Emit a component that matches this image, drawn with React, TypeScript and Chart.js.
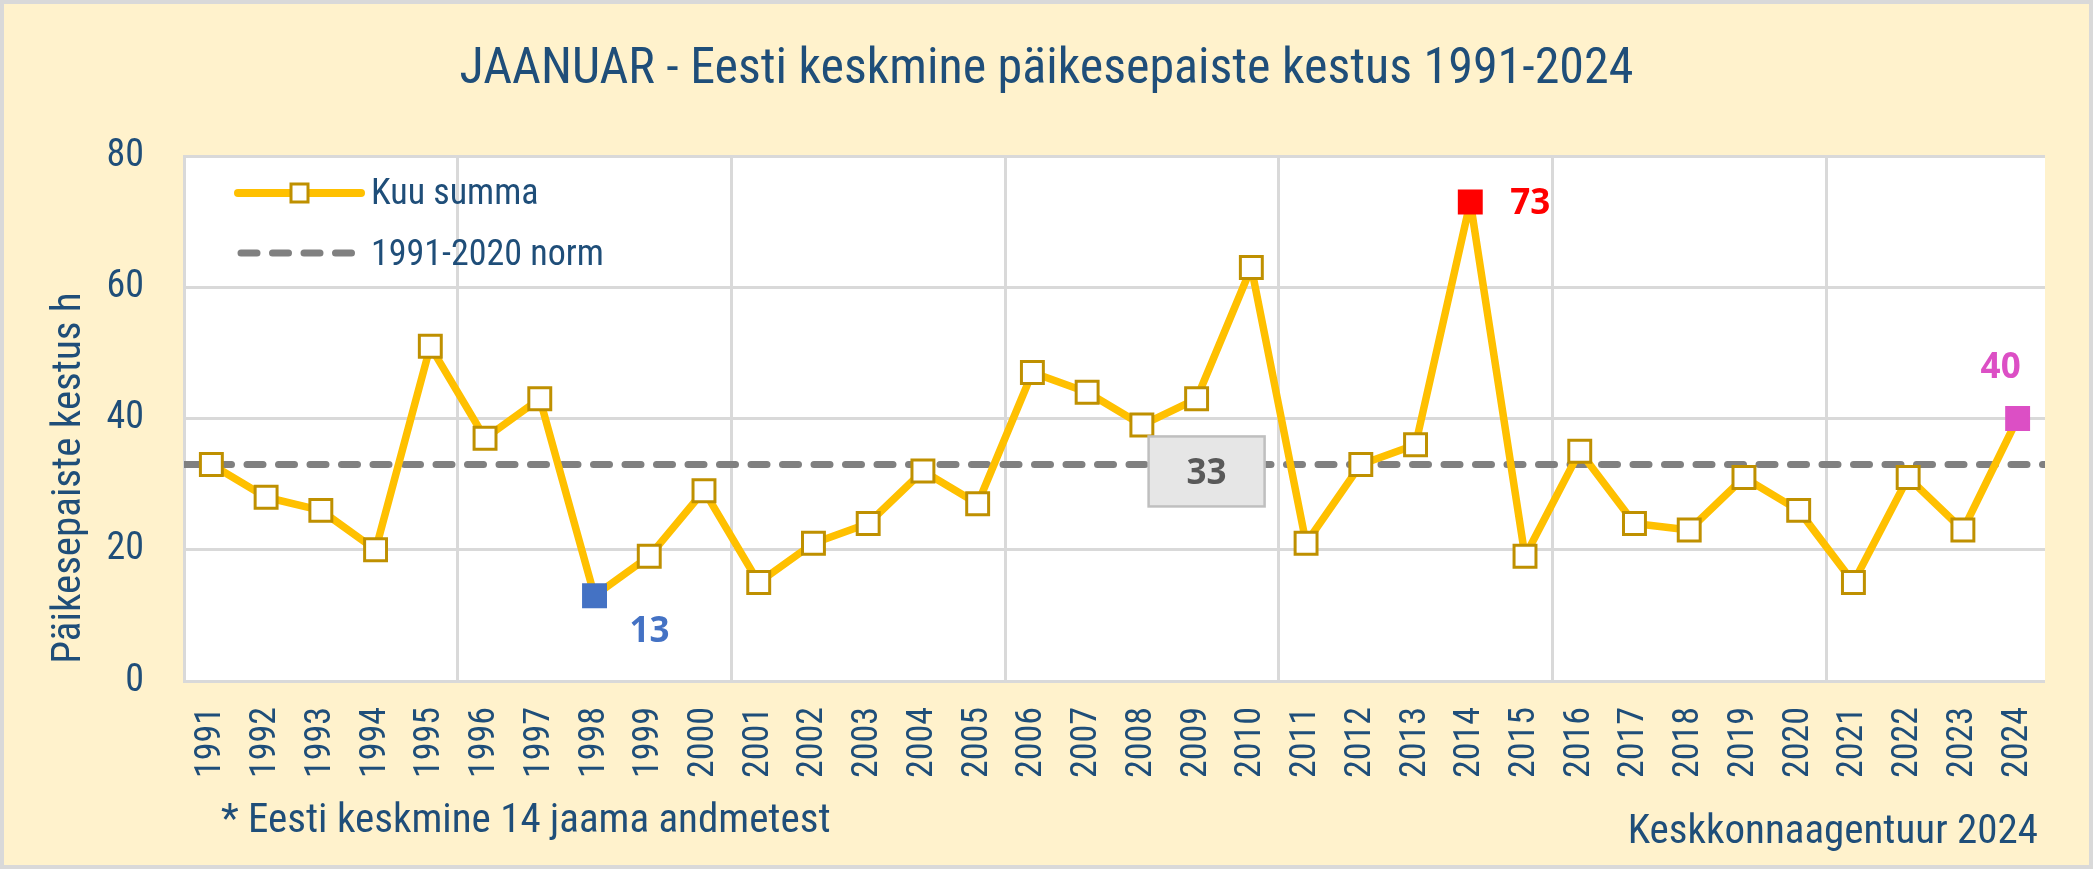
import React, { useEffect, useRef } from "react";
import { Chart, registerables } from "chart.js";

Chart.register(...registerables);

const YEARS = [
  "1991", "1992", "1993", "1994", "1995", "1996", "1997", "1998", "1999", "2000",
  "2001", "2002", "2003", "2004", "2005", "2006", "2007", "2008", "2009", "2010",
  "2011", "2012", "2013", "2014", "2015", "2016", "2017", "2018", "2019", "2020",
  "2021", "2022", "2023", "2024",
];
const SUNSHINE = [
  33, 28, 26, 20, 51, 37, 43, 13, 19, 29,
  15, 21, 24, 32, 27, 47, 44, 39, 43, 63,
  21, 33, 36, 73, 19, 35, 24, 23, 31, 26,
  15, 31, 23, 40,
];
const NORM = 33;
const Y_TICKS = [0, 20, 40, 60, 80];
const HIGHLIGHT_YEARS = ["1998", "2014", "2024"];
const NORM_LABEL_YEAR = "2009";

const TITLE = "JAANUAR - Eesti keskmine päikesepaiste kestus 1991-2024";
const Y_TITLE = "Päikesepaiste kestus h";
const NOTE = "* Eesti keskmine 14 jaama andmetest";
const SOURCE = "Keskkonnaagentuur 2024";
const SERIES_NAME = "Kuu summa";
const NORM_NAME = "1991-2020 norm";

// styles
const FONT = "'Roboto Condensed', 'Liberation Sans Narrow', Roboto, 'DejaVu Sans', sans-serif";
const STRETCH = "condensed";
const LABEL_FONT = "'Open Sans', 'Noto Sans', sans-serif";
const TEXT = "#1F4E79";
const BG = "#FFF2CC";
const GRID = "#D9D9D9";
const LINE = "#FFC000";
const MARKER = "#BF9000";
const NORM_COLOR = "#808080";
const HIGHLIGHT_COLORS: Record<string, string> = {
  "1998": "#4472C4",
  "2014": "#FF0000",
  "2024": "#DC4FC5",
};
// label offsets from the point (dx = centre, dy = baseline)
const HIGHLIGHT_OFFSETS: Record<string, [number, number]> = {
  "1998": [55, 46],
  "2014": [60, 12],
  "2024": [-17, -41],
};

const decor = {
  id: "decor",
  beforeDraw(chart: any) {
    const { ctx, chartArea: a, width, height } = chart;
    ctx.save();
    ctx.fillStyle = BG;
    ctx.fillRect(0, 0, width, height);
    ctx.strokeStyle = GRID;
    ctx.lineWidth = 4;
    ctx.strokeRect(2, 2, width - 4, height - 4);
    ctx.fillStyle = "#FFFFFF";
    ctx.fillRect(a.left, a.top, a.right - a.left, a.bottom - a.top);
    ctx.restore();
  },
  afterDraw(chart: any) {
    const { ctx } = chart;
    const x = chart.scales.x;
    const y = chart.scales.y;
    ctx.save();
    ctx.fillStyle = TEXT;
    ctx.textBaseline = "alphabetic";

    ctx.font = `${STRETCH} 50px ${FONT}`;
    ctx.textAlign = "center";
    ctx.fillText(TITLE, chart.width / 2, 83);

    ctx.save();
    ctx.translate(80, 478);
    ctx.rotate(-Math.PI / 2);
    ctx.font = `${STRETCH} 41px ${FONT}`;
    ctx.fillText(Y_TITLE, 0, 0);
    ctx.restore();

    ctx.font = `${STRETCH} 41px ${FONT}`;
    ctx.textAlign = "left";
    ctx.fillText(NOTE, 221, 832);
    ctx.textAlign = "right";
    ctx.fillText(SOURCE, 2038, 843);

    // legend
    ctx.lineCap = "round";
    ctx.strokeStyle = LINE;
    ctx.lineWidth = 8;
    ctx.beginPath();
    ctx.moveTo(238, 193);
    ctx.lineTo(361, 193);
    ctx.stroke();
    ctx.fillStyle = "#FFFFFF";
    ctx.fillRect(291, 184, 17, 18);
    ctx.strokeStyle = MARKER;
    ctx.lineWidth = 3;
    ctx.strokeRect(291, 184, 17, 18);
    ctx.strokeStyle = NORM_COLOR;
    ctx.lineWidth = 7;
    ctx.setLineDash([16, 15.5]);
    ctx.beginPath();
    ctx.moveTo(241, 253);
    ctx.lineTo(357, 253);
    ctx.stroke();
    ctx.setLineDash([]);
    ctx.fillStyle = TEXT;
    ctx.font = `${STRETCH} 36px ${FONT}`;
    ctx.textAlign = "left";
    ctx.fillText(SERIES_NAME, 371, 204);
    ctx.fillText(NORM_NAME, 371, 265);

    // highlighted values
    ctx.font = `700 35px ${LABEL_FONT}`;
    ctx.textAlign = "center";
    HIGHLIGHT_YEARS.forEach((yr) => {
      const i = YEARS.indexOf(yr);
      const [dx, dy] = HIGHLIGHT_OFFSETS[yr];
      ctx.fillStyle = HIGHLIGHT_COLORS[yr];
      ctx.fillText(
        String(SUNSHINE[i]),
        x.getPixelForValue(i) + dx,
        y.getPixelForValue(SUNSHINE[i]) + dy
      );
    });

    // norm value box
    const nx = x.getPixelForValue(YEARS.indexOf(NORM_LABEL_YEAR)) + 10;
    const ny = y.getPixelForValue(NORM);
    ctx.fillStyle = "#E6E6E6";
    ctx.fillRect(nx - 58, ny - 28, 116, 70);
    ctx.strokeStyle = "#BFBFBF";
    ctx.lineWidth = 2.5;
    ctx.strokeRect(nx - 58, ny - 28, 116, 70);
    ctx.fillStyle = "#595959";
    ctx.fillText(String(NORM), nx, ny + 20);
    ctx.restore();
  },
};

export default function App() {
  const canvasRef = useRef<HTMLCanvasElement | null>(null);

  useEffect(() => {
    document.body.style.margin = "0";
    if (!canvasRef.current) return;
    const ctx = canvasRef.current.getContext("2d");
    if (!ctx) return;

    const fill = YEARS.map((yr) => HIGHLIGHT_COLORS[yr] ?? "#FFFFFF");
    const border = YEARS.map((yr) => HIGHLIGHT_COLORS[yr] ?? MARKER);

    const chart = new Chart(ctx, {
      type: "line",
      data: {
        labels: YEARS,
        datasets: [
          {
            label: SERIES_NAME,
            data: SUNSHINE,
            borderColor: LINE,
            borderWidth: 7.5,
            borderJoinStyle: "round",
            pointStyle: "rect",
            pointRadius: 15.5,
            pointBackgroundColor: fill,
            pointBorderColor: border,
            pointBorderWidth: 3,
            tension: 0,
            order: 0,
          },
          {
            label: NORM_NAME,
            data: [
              { x: -0.5, y: NORM },
              { x: YEARS.length - 0.5, y: NORM },
            ],
            xAxisID: "x2",
            borderColor: NORM_COLOR,
            borderWidth: 7,
            borderDash: [16, 15.5],
            borderCapStyle: "round",
            pointRadius: 0,
            order: 1,
          } as any,
        ],
      },
      options: {
        animation: false,
        responsive: true,
        maintainAspectRatio: false,
        layout: { padding: { top: 156, right: 48, bottom: 78, left: 0 } },
        plugins: {
          legend: { display: false },
          title: { display: false },
          tooltip: { enabled: false },
        },
        scales: {
          x: {
            type: "category",
            offset: true,
            grid: {
              offset: true,
              drawTicks: false,
              lineWidth: 3,
              color: (c: any) =>
                c.index > 0 && c.index % 5 === 0 && c.index < YEARS.length ? GRID : "rgba(0,0,0,0)",
            },
            border: { display: false },
            ticks: {
              autoSkip: false,
              minRotation: 90,
              maxRotation: 90,
              padding: 26,
              color: TEXT,
              font: { family: FONT, size: 36, weight: STRETCH as any },
            },
            afterFit: (s: any) => {
              s.height = 110;
            },
          },
          x2: {
            type: "linear",
            display: false,
            min: -0.5,
            max: YEARS.length - 0.5,
          },
          y: {
            min: 0,
            max: 80,
            grid: { color: GRID, lineWidth: 3, drawTicks: false },
            border: { display: true, color: GRID, width: 3 },
            afterBuildTicks: (s: any) => {
              s.ticks = Y_TICKS.map((v) => ({ value: v }));
            },
            ticks: {
              padding: 40,
              color: TEXT,
              font: { family: FONT, size: 38, weight: STRETCH as any },
            },
            afterFit: (s: any) => {
              s.width = 184;
            },
          },
        },
      },
      plugins: [decor],
    });

    return () => {
      chart.destroy();
    };
  }, []);

  return (
    <div style={{ width: 2093, height: 869, position: "relative" }}>
      <canvas ref={canvasRef}></canvas>
    </div>
  );
}
